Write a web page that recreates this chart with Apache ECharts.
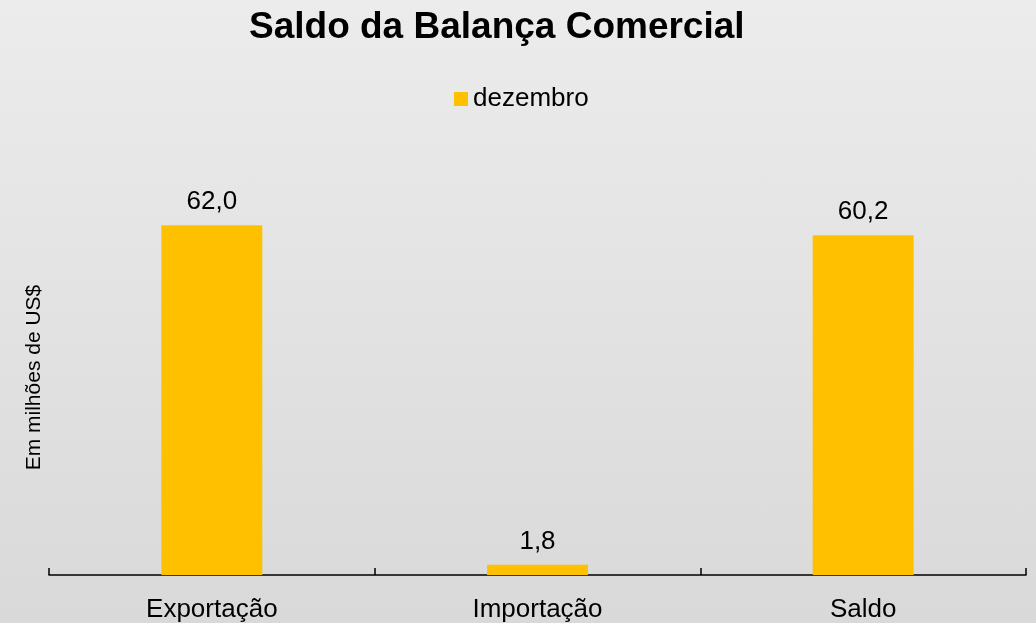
<!DOCTYPE html>
<html>
<head>
<meta charset="utf-8">
<script src="https://cdn.jsdelivr.net/npm/echarts@6/dist/echarts.min.js"></script>
<style>
  html, body { margin: 0; padding: 0; }
  #chart {
    width: 1036px;
    height: 623px;
    background: linear-gradient(to bottom, #ececec, #d9d9d9);
  }
</style>
</head>
<body>
<div id="chart"></div>
<script>
const categories = ["Exportação", "Importação", "Saldo"];
const seriesName = "dezembro";
const values = [62.0, 1.8, 60.2];

const myChart = echarts.init(document.getElementById("chart"));
const fmt = (v) => v.toFixed(1).replace(".", ",");

myChart.setOption({
  textStyle: { fontFamily: "Liberation Sans, Arial, sans-serif" },
  title: {
    text: "Saldo da Balança Comercial",
    left: 244,
    top: 4,
    textStyle: { fontSize: 37, fontWeight: "bold", color: "#000" },
  },
  legend: {
    top: 81,
    left: 449,
    itemWidth: 14,
    itemHeight: 14,
    icon: "rect",
    textStyle: { fontSize: 26, color: "#000" },
    data: [seriesName],
  },
  grid: { left: 49, right: 10, top: 180, bottom: 48 },
  xAxis: {
    type: "category",
    data: categories,
    axisLine: { lineStyle: { color: "#000", width: 1.5 } },
    axisTick: {
      show: true,
      inside: true,
      length: 7,
      alignWithLabel: false,
      interval: 0,
      lineStyle: { color: "#000", width: 1.5 },
    },
    axisLabel: { fontSize: 26, color: "#000", margin: 22 },
  },
  yAxis: {
    type: "value",
    min: 0,
    max: 70,
    name: "Em milhões de US$",
    nameLocation: "middle",
    nameRotate: 90,
    nameGap: 4,
    nameTextStyle: { fontSize: 21, color: "#000" },
    axisLine: { show: false },
    axisTick: { show: false },
    axisLabel: { show: false },
    splitLine: { show: false },
  },
  series: [
    {
      name: seriesName,
      type: "bar",
      data: values,
      barWidth: "31%",
      itemStyle: { color: "#FFC000" },
      label: {
        show: true,
        position: "top",
        distance: 10,
        fontSize: 26,
        color: "#000",
        formatter: (p) => fmt(p.value),
      },
    },
  ],
});
</script>
</body>
</html>
